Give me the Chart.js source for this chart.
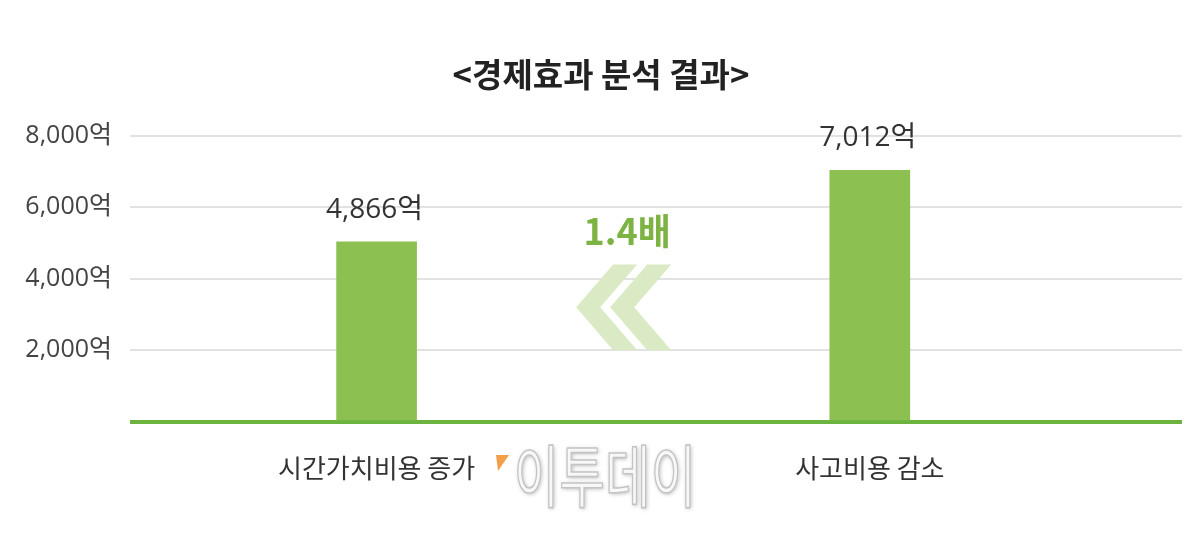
<!DOCTYPE html>
<html><head><meta charset="utf-8">
<script src="https://cdn.jsdelivr.net/npm/chart.js@4.4.1/dist/chart.umd.min.js"></script>
<style>html,body{margin:0;padding:0;background:#fff;}#wrap{width:1200px;height:538px;}</style>
</head><body><div id="wrap"><canvas id="c" width="1200" height="538"></canvas></div>
<script>
const categories = ['시간가치비용 증가', '사고비용 감소'];
const barValues = [5030, 7030];           // bar heights as drawn
const valueLabels = ['4,866억', '7,012억'];
const yTicks = [0, 2000, 4000, 6000, 8000];
const ratioLabel = '1.4배';
const chartTitle = '<경제효과 분석 결과>';
const FONT = "'Noto Sans CJK KR', 'Noto Sans', sans-serif";
const NUMFONT = "'Open Sans', 'Noto Sans CJK KR', sans-serif";

const decor = {
  id: 'decor',
  afterDatasetsDraw(chart) {
    const ctx = chart.ctx;
    const meta = chart.getDatasetMeta(0);
    const xs = chart.scales.x, ys = chart.scales.y;
    ctx.save();
    // value labels
    ctx.font = '28px ' + NUMFONT;
    ctx.fillStyle = '#333';
    ctx.textAlign = 'center';
    ctx.textBaseline = 'middle';
    meta.data.forEach((el, i) => {
      ctx.fillText(valueLabels[i], el.x - 2, el.y - 32);
    });
    // chevrons
    const cx = xs.getPixelForValue(0.5);
    const yTop = ys.getPixelForValue(4400), yBot = ys.getPixelForValue(2000);
    const yMid = (yTop + yBot) / 2;
    const arm = 37, W = 24;
    ctx.fillStyle = '#d9eac4';
    [cx - 47, cx - 13].forEach(tx => {
      ctx.beginPath();
      ctx.moveTo(tx, yMid);
      ctx.lineTo(tx + arm, yTop);
      ctx.lineTo(tx + arm + W, yTop);
      ctx.lineTo(tx + W, yMid);
      ctx.lineTo(tx + arm + W, yBot);
      ctx.lineTo(tx + arm, yBot);
      ctx.closePath();
      ctx.fill();
    });
    // ratio label
    ctx.font = 'bold 36px ' + FONT;
    ctx.fillStyle = '#7cb342';
    ctx.fillText(ratioLabel, cx + 4, ys.getPixelForValue(5330));
    // watermark
    ctx.fillStyle = '#f4a04b';
    ctx.beginPath();
    ctx.moveTo(496, 455); ctx.lineTo(509, 455); ctx.lineTo(498, 471); ctx.closePath();
    ctx.fill();
    ctx.save();
    ctx.translate(605, 476);
    ctx.scale(0.8, 1.1);
    ctx.font = '62px ' + FONT;
    ctx.shadowColor = 'rgba(0,0,0,0.3)';
    ctx.shadowBlur = 4;
    ctx.shadowOffsetX = 1; ctx.shadowOffsetY = 1;
    ctx.fillStyle = '#f8f8f8';
    ctx.fillText('이투데이', 0, 0);
    ctx.shadowColor = 'transparent';
    ctx.lineWidth = 1.5;
    ctx.strokeStyle = '#c4c4c4';
    ctx.strokeText('이투데이', 0, 0);
    ctx.restore();
    ctx.restore();
  }
};

new Chart(document.getElementById('c'), {
  type: 'bar',
  data: {
    datasets: [{
      data: barValues.map((v, i) => ({ x: i, y: v })),
      backgroundColor: '#8cc152',
      borderWidth: 0,
      barThickness: 80
    }]
  },
  options: {
    responsive: false,
    animation: false,
    layout: { padding: { left: 20, right: 18, top: 0, bottom: 31 } },
    plugins: {
      legend: { display: false },
      tooltip: { enabled: false },
      title: {
        display: true,
        text: chartTitle,
        color: '#222',
        font: { family: FONT, size: 33, weight: 'bold' },
        padding: { top: 55, bottom: 41 }
      }
    },
    scales: {
      x: {
        type: 'linear',
        min: -0.5,
        max: 1.633,
        offset: false,
        bounds: 'data',
        grid: { display: false },
        border: { display: false },
        afterBuildTicks: (s) => { s.ticks = categories.map((_, i) => ({ value: i })); },
        ticks: {
          autoSkip: false,
          maxRotation: 0,
          padding: 23,
          color: '#333',
          font: { family: FONT, size: 26 },
          callback: (v) => categories[v] ?? ''
        }
      },
      y: {
        min: 0,
        max: 8000,
        afterFit: (s) => { s.width = 110; },
        afterBuildTicks: (s) => { s.ticks = yTicks.map(v => ({ value: v })); },
        border: { display: false },
        grid: {
          drawTicks: false,
          color: (c) => c.tick && c.tick.value === 0 ? '#6db33f' : '#e2e2e2',
          lineWidth: (c) => c.tick && c.tick.value === 0 ? 4 : 2
        },
        ticks: {
          padding: 18,
          color: '#444',
          font: { family: NUMFONT, size: 25 },
          callback: (v) => v === 0 ? '' : v.toLocaleString('en-US') + '억'
        }
      }
    }
  },
  plugins: [decor]
});
</script>
</body></html>
